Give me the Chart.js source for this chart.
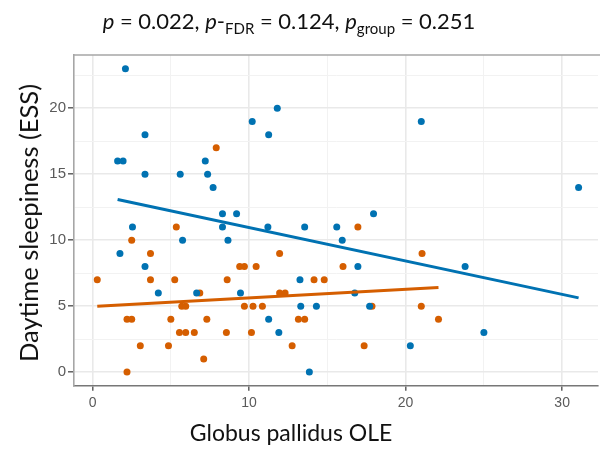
<!DOCTYPE html>
<html>
<head>
<meta charset="utf-8">
<script src="https://cdn.jsdelivr.net/npm/chart.js@4/dist/chart.umd.min.js"></script>
<style>
  html, body { margin:0; padding:0; background:#fff; }
  #wrap { position:relative; width:602px; height:451px; overflow:hidden; background:#fff; }
  #c { position:absolute; left:0; top:0; }
  .t { position:absolute; font-family:Lato, "Open Sans", sans-serif; color:#111; white-space:nowrap; }
  #title { left:0; width:578px; top:7px; text-align:center; font-size:22px; }
  #title sub { font-size:15px; vertical-align:-5px; line-height:0; }
  #title i { font-style:italic; }
  #xt { left:0; width:582px; top:418px; text-align:center; font-size:23px; }
  #yt { left:28px; top:223px; font-size:25.5px; transform:translate(-50%,-50%) rotate(-90deg); }
</style>
</head>
<body>
<div id="wrap">
  <canvas id="c" width="602" height="451"></canvas>
  <div class="t" id="title"><i>p</i> = 0.022, <i>p</i>-<sub>FDR</sub> = 0.124, <i>p</i><sub>group</sub> = 0.251</div>
  <div class="t" id="xt">Globus pallidus OLE</div>
  <div class="t" id="yt">Daytime sleepiness (ESS)</div>
</div>
<script>
// ---- data ----
const blueX = [2.1,3.35,1.6,1.95,3.35,5.6,7.2,7.35,7.7,8.3,9.2,8.3,2.55,11.8,10.2,11.25,11.2,13.55,15.6,17.95,21.0,31.05,5.75,8.65,1.75,3.35,4.2,6.65,9.45,15.95,16.95,13.25,16.75,13.3,14.3,17.7,11.25,11.9,20.3,13.85,23.8,25.0];
const blueY = [23,18,16,16,15,15,16,15,14,12,12,11,11,20,19,18,11,11,11,12,19,14,10,10,9,8,6,6,6,10,8,7,6,5,5,5,4,3,2,0,8,3];
const orangeX = [7.9,5.35,16.95,2.5,3.7,9.4,9.7,10.45,16.0,0.3,3.7,5.25,8.6,14.15,14.8,6.85,11.95,12.3,5.7,5.95,9.7,10.25,10.85,17.85,21.0,2.2,2.5,5.0,7.3,13.15,13.55,22.1,5.55,5.95,6.5,8.55,10.15,3.05,4.85,12.75,17.35,7.1,2.2,11.95,21.05];
const orangeY = [17,11,11,10,9,8,8,8,8,7,7,7,7,7,7,6,6,6,5,5,5,5,5,5,5,4,4,4,4,4,4,4,3,3,3,3,3,2,2,2,2,1,0,9,9];
// fitted lines (end points)
const blueFitX = [1.6, 31.05];
const blueFitY = [13.08, 5.63];
const orangeFitX = [0.3, 22.1];
const orangeFitY = [5.0, 6.41];
// axis ticks
const xTicks = [0,5,10,15,20,25,30];
const xMajor = [0,10,20,30];
const yTicks = [0,2.5,5,7.5,10,12.5,15,17.5,20,22.5];
const yMajor = [0,5,10,15,20];

const BLUE = '#0072B2', ORANGE = '#D55E00';
const pts = (xs, ys) => xs.map((x,i)=>({x, y: ys[i]}));

const panelBorder = {
  id:'panelBorder',
  afterDraw(chart){
    const {ctx, chartArea:a} = chart;
    ctx.save();
    ctx.strokeStyle = '#a6a6a6';
    ctx.lineWidth = 1.6;
    ctx.beginPath();
    ctx.moveTo(a.left, a.top); ctx.lineTo(a.right+2, a.top);
    ctx.stroke();
    ctx.restore();
  }
};

const isMaj = (arr, v) => arr.some(m => Math.abs(m - v) < 1e-6);

new Chart(document.getElementById('c'), {
  type: 'scatter',
  data: {
    datasets: [
      { data: pts(blueFitX, blueFitY), type:'line', showLine:true, borderColor: BLUE, borderWidth: 3, pointRadius: 0, fill:false, order: 0 },
      { data: pts(orangeFitX, orangeFitY), type:'line', showLine:true, borderColor: ORANGE, borderWidth: 3, pointRadius: 0, fill:false, order: 0 },
      { data: pts(blueX, blueY), backgroundColor: BLUE, pointRadius: 3.5, borderWidth: 0, order: 1 },
      { data: pts(orangeX, orangeY), backgroundColor: ORANGE, pointRadius: 3.5, borderWidth: 0, order: 1 }
    ]
  },
  options: {
    responsive: false,
    animation: false,
    devicePixelRatio: 1,
    layout: { padding: { top: 55, right: 0, bottom: 35.3, left: 0 } },
    plugins: { legend: { display:false }, tooltip: { enabled:false }, title: { display:false } },
    scales: {
      x: {
        type: 'linear', min: -1.186, max: 32.29,
        afterFit(s){ s.height = 30; },
        afterBuildTicks(s){ s.ticks = xTicks.map(v=>({value:v})); },
        ticks: {
          autoSkip:false, maxRotation:0, padding: 4,
          color:'#5a5a5a', font:{ family:'"Liberation Sans", Arial, sans-serif', size:14 },
          callback: v => isMaj(xMajor, v) ? String(v) : ''
        },
        grid: {
          drawOnChartArea:true, drawTicks:true, tickLength:5,
          color: c => (c.tick && isMaj(xMajor, c.tick.value)) ? '#e9e9e9' : '#f2f2f2',
          lineWidth: c => (c.tick && isMaj(xMajor, c.tick.value)) ? 1.6 : 1,
          tickColor: c => (c.tick && isMaj(xMajor, c.tick.value)) ? '#555' : 'rgba(0,0,0,0)',
          tickWidth: 1.4
        },
        border: { display:true, color:'#777', width:1.6 }
      },
      y: {
        type: 'linear', min: -1.03, max: 24.04,
        afterFit(s){ s.width = 74; },
        afterBuildTicks(s){ s.ticks = yTicks.map(v=>({value:v})); },
        ticks: {
          autoSkip:false, padding: 2,
          color:'#5a5a5a', font:{ family:'"Liberation Sans", Arial, sans-serif', size:15 },
          callback: v => isMaj(yMajor, v) ? String(v) : ''
        },
        grid: {
          drawOnChartArea:true, drawTicks:true, tickLength:6,
          color: c => (c.tick && isMaj(yMajor, c.tick.value)) ? '#e9e9e9' : '#f2f2f2',
          lineWidth: c => (c.tick && isMaj(yMajor, c.tick.value)) ? 1.6 : 1,
          tickColor: c => (c.tick && isMaj(yMajor, c.tick.value)) ? '#555' : 'rgba(0,0,0,0)',
          tickWidth: 1.4
        },
        border: { display:true, color:'#a6a6a6', width:1.6 }
      }
    }
  },
  plugins: [panelBorder]
});
</script>
</body>
</html>
